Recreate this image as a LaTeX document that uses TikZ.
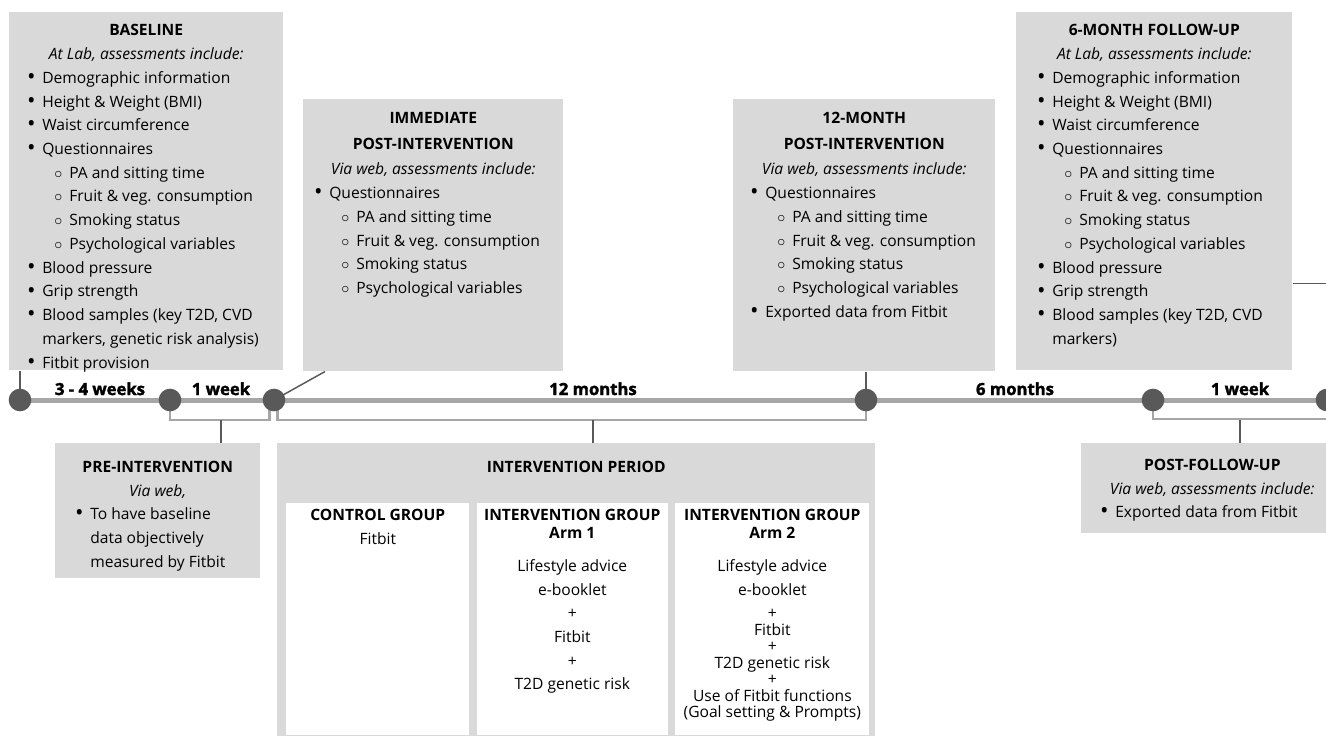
\documentclass[tikz,border=0pt]{standalone}
\usepackage{fontspec}
\setmainfont{Open Sans}
\newfontfamily\heavyfont{Open Sans}[BoldFeatures={FakeBold=2}]
\usetikzlibrary{positioning, calc, backgrounds}
\definecolor{boxgray}{RGB}{217, 217, 217}
\definecolor{linegray}{RGB}{166, 166, 166}
\definecolor{dotgray}{RGB}{89, 89, 89}
\newcommand{\bodyfont}{\fontsize{11.7pt}{17.8pt}\selectfont}
\newcommand{\phasebody}[5]{%
  \parbox[c][#2][t]{#1}{\raggedright\leftskip=#3\relax
    \vspace*{#4}#5}}
\newcommand{\phasetitle}[2][0pt]{{\centering\strut\textbf{#2}\par}\vspace{#1}}
\newcommand{\phasevia}[1]{{\centering\itshape #1\par}}
\newcommand{\itm}[1]{\par\hangindent=10.5pt\hangafter=1\noindent
  \makebox[10.5pt][l]{\makebox[4.5pt][c]{\raisebox{-0.9pt}{\scalebox{1.45}{\textbullet}}}}#1\par}
\newcommand{\sitm}[1]{\par\noindent\hspace*{20.25pt}%
  \makebox[10.5pt][l]{\makebox[4.5pt][c]{$\circ$}}#1\par}
\tikzset{
  phase/.style={
    fill=boxgray, inner sep=0pt, anchor=north west, font=\bodyfont
  },
  groupbox/.style={
    fill=white, inner sep=0pt, anchor=north west, font=\bodyfont
  },
  event/.style={
    circle, fill=dotgray, minimum size=17pt, inner sep=0pt
  },
  period/.style={
    font=\heavyfont\fontsize{12.5pt}{14pt}\selectfont\bfseries,
    anchor=base, inner sep=0pt
  },
  timeline/.style={draw=linegray, line width=3.75pt},
  bracket/.style={draw=linegray, line width=2pt},
  stem/.style={draw=dotgray, line width=1.1pt}
}
\begin{document}
\begin{tikzpicture}[x=0.75pt, y=-0.75pt]
  \useasboundingbox (0,0) rectangle (1326,736);

  % ── Assessments above the timeline ─────────────────────────
  \node[phase] (baseline) at (9,12) {\phasebody{205.5pt}{268.5pt}{14.25pt}{5.2pt}{%
    \phasetitle{BASELINE}
    \phasevia{At Lab, assessments include:}
    \itm{Demographic information}
    \itm{Height \& Weight (BMI)}
    \itm{Waist circumference}
    \itm{Questionnaires}
    \sitm{PA and sitting time}
    \sitm{Fruit \& veg. consumption}
    \sitm{Smoking status}
    \sitm{Psychological variables}
    \itm{Blood pressure}
    \itm{Grip strength}
    \itm{Blood samples (key T2D, CVD\newline markers, genetic risk analysis)}
    \itm{Fitbit provision}}};

  \node[phase] (immediate) at (303,99) {\phasebody{195pt}{204pt}{9pt}{5.7pt}{%
    \phasetitle[1.5pt]{IMMEDIATE}
    \phasetitle[1.5pt]{POST-INTERVENTION}
    \phasevia{Via web, assessments include:}
    \itm{Questionnaires}
    \sitm{PA and sitting time}
    \sitm{Fruit \& veg. consumption}
    \sitm{Smoking status}
    \sitm{Psychological variables}}};

  \node[phase] (month12) at (733,99) {\phasebody{196.5pt}{204pt}{13.5pt}{5.7pt}{%
    \phasetitle[1.5pt]{12-MONTH}
    \phasetitle[1.5pt]{POST-INTERVENTION}
    \phasevia{Via web, assessments include:}
    \itm{Questionnaires}
    \sitm{PA and sitting time}
    \sitm{Fruit \& veg. consumption}
    \sitm{Smoking status}
    \sitm{Psychological variables}
    \itm{Exported data from Fitbit}}};

  \node[phase] (sixmonth) at (1016,12) {\phasebody{207pt}{268.5pt}{16.5pt}{5.2pt}{%
    \phasetitle{6-MONTH FOLLOW-UP}
    \phasevia{At Lab, assessments include:}
    \itm{Demographic information}
    \itm{Height \& Weight (BMI)}
    \itm{Waist circumference}
    \itm{Questionnaires}
    \sitm{PA and sitting time}
    \sitm{Fruit \& veg. consumption}
    \sitm{Smoking status}
    \sitm{Psychological variables}
    \itm{Blood pressure}
    \itm{Grip strength}
    \itm{Blood samples (key T2D, CVD\newline markers)}}};

  % ── Assessments below the timeline ─────────────────────────
  \node[phase] (pre) at (55,443) {\phasebody{153.75pt}{101.25pt}{15.75pt}{9.3pt}{%
    \phasetitle{PRE-INTERVENTION}
    \phasevia{Via web,}
    \itm{To have baseline\newline data objectively\newline measured by Fitbit}}};

  \node[phase] (postfu) at (1081,443) {\phasebody{196.5pt}{67.5pt}{15pt}{7.8pt}{%
    \phasetitle{POST-FOLLOW-UP}
    \phasevia{Via web, assessments include:}
    \itm{Exported data from Fitbit}}};

  % ── Intervention period and its groups ─────────────────────
  \node[phase] (intv) at (277,443) {\parbox[c][219.75pt][t]{448.5pt}{%
    \centering\vspace*{9.3pt}\strut\textbf{INTERVENTION PERIOD}}};

  \node[groupbox] (control) at (286,503) {\parbox[c][174pt][t]{137.25pt}{%
    \centering\vspace*{0.3pt}\strut\textbf{CONTROL GROUP}\\
    Fitbit}};
  \node[groupbox, right=5.25pt of control.north east, anchor=north west] (arm1)
    {\parbox[c][174pt][t]{143.25pt}{%
    \centering\vspace*{0.3pt}\strut\textbf{INTERVENTION GROUP}\\[-4.3pt]
    \textbf{Arm 1}\\[6.95pt]
    Lifestyle advice\\
    e-booklet\\
    +\\
    Fitbit\\
    +\\
    T2D genetic risk}};
  \node[groupbox, right=5.25pt of arm1.north east, anchor=north west] (arm2)
    {\parbox[c][174pt][t]{145.5pt}{%
    \centering\vspace*{0.3pt}\strut\textbf{INTERVENTION GROUP}\\[-4.3pt]
    \textbf{Arm 2}\\[6.95pt]
    Lifestyle advice\\
    e-booklet\\
    +\\[-5.4pt]
    Fitbit\\[-5.4pt]
    +\\[-5.4pt]
    T2D genetic risk\\[-5.4pt]
    +\\[-5.4pt]
    Use of Fitbit functions\\[-5.4pt]
    (Goal setting \& Prompts)}};

  % ── Timeline events ────────────────────────────────────────
  \node[event] (t0) at (20,400)   {};
  \node[event] (t1) at (170,400)  {};
  \node[event] (t2) at (274,400)  {};
  \node[event] (t3) at (866,400)  {};
  \node[event] (t4) at (1153,400) {};
  \node[event] (t5) at (1327,400) {};
  \coordinate (brk) at (0,420);

  % ── Period labels ──────────────────────────────────────────
  \node[period] (p1) at (100,395)  {3 - 4 weeks};
  \node[period] (p2) at (221,395)  {1 week};
  \node[period] (p3) at (593,395)  {12 months};
  \node[period] (p4) at (1015,395) {6 months};
  \node[period] (p5) at (1240,395) {1 week};

  % ── Lines behind the events ────────────────────────────────
  \begin{scope}[on background layer]
    \draw[timeline] (t0.center) -- (t5.center);

    \draw[bracket] (t1.center) -- ++(0,20) -| ([xshift=-3.5pt]t2.center);
    \draw[bracket] ([xshift=2.8pt]t2.center) -- ++(0,20) -| (t3.center);
    \draw[bracket] (t4.center) -- ++(0,19) -| (t5.center);

    \draw[stem] (p2 |- brk) -- (p2 |- pre.north);
    \draw[stem] (p3 |- brk) -- (p3 |- intv.north);
    \draw[stem] (p5 |- brk) -- (p5 |- postfu.north);

    \draw[stem] (t0.center) -- (t0 |- baseline.south);
    \draw[stem] (t2.center) -- ([xshift=16.5pt]immediate.south west);
    \draw[stem] (t3.center) -- (t3 |- month12.south);
    \draw[stem] ([yshift=65.25pt]sixmonth.south east) -| (t5.center);
  \end{scope}

\end{tikzpicture}
\end{document}
